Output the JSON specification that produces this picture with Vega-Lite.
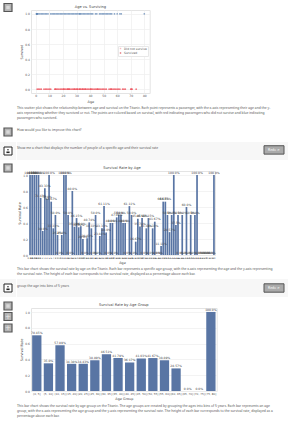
{"$schema":"https://vega.github.io/schema/vega-lite/v6.json","padding":0,"background":"white","autosize":{"type":"pad"},"spacing":0,"bounds":"full",
"config":{"view":{"stroke":null},"font":"DejaVu Sans","axis":{"domain":false,"ticks":false,"labelFontSize":3,"titleFontSize":3.4,"labelColor":"#555","titleColor":"#444","titleFontWeight":"normal","labelPadding":1.5,"titlePadding":1.5,"gridColor":"#eeeeee","gridWidth":0.7},"title":{"fontSize":3.6,"fontWeight":"normal","color":"#444","offset":1}},
"datasets":{
"scatter":[{"age":0.42,"survived":1},{"age":0.67,"survived":1},{"age":0.75,"survived":1},{"age":0.83,"survived":1},{"age":0.92,"survived":1},{"age":1,"survived":1},{"age":2,"survived":1},{"age":3,"survived":1},{"age":4,"survived":1},{"age":5,"survived":1},{"age":6,"survived":1},{"age":7,"survived":1},{"age":8,"survived":1},{"age":9,"survived":1},{"age":11,"survived":1},{"age":12,"survived":1},{"age":13,"survived":1},{"age":14,"survived":1},{"age":15,"survived":1},{"age":16,"survived":1},{"age":17,"survived":1},{"age":18,"survived":1},{"age":19,"survived":1},{"age":20,"survived":1},{"age":21,"survived":1},{"age":22,"survived":1},{"age":23,"survived":1},{"age":24,"survived":1},{"age":25,"survived":1},{"age":26,"survived":1},{"age":27,"survived":1},{"age":28,"survived":1},{"age":29,"survived":1},{"age":30,"survived":1},{"age":31,"survived":1},{"age":32,"survived":1},{"age":32.5,"survived":1},{"age":33,"survived":1},{"age":34,"survived":1},{"age":35,"survived":1},{"age":36,"survived":1},{"age":37,"survived":1},{"age":38,"survived":1},{"age":39,"survived":1},{"age":40,"survived":1},{"age":41,"survived":1},{"age":42,"survived":1},{"age":44,"survived":1},{"age":45,"survived":1},{"age":47,"survived":1},{"age":48,"survived":1},{"age":49,"survived":1},{"age":50,"survived":1},{"age":51,"survived":1},{"age":52,"survived":1},{"age":53,"survived":1},{"age":54,"survived":1},{"age":55,"survived":1},{"age":56,"survived":1},{"age":58,"survived":1},{"age":60,"survived":1},{"age":62,"survived":1},{"age":63,"survived":1},{"age":80,"survived":1},
{"age":1,"survived":0},{"age":2,"survived":0},{"age":3,"survived":0},{"age":4,"survived":0},{"age":6,"survived":0},{"age":7,"survived":0},{"age":8,"survived":0},{"age":9,"survived":0},{"age":10,"survived":0},{"age":11,"survived":0},{"age":14,"survived":0},{"age":14.5,"survived":0},{"age":15,"survived":0},{"age":16,"survived":0},{"age":17,"survived":0},{"age":18,"survived":0},{"age":19,"survived":0},{"age":20,"survived":0},{"age":20.5,"survived":0},{"age":21,"survived":0},{"age":22,"survived":0},{"age":23,"survived":0},{"age":23.5,"survived":0},{"age":24,"survived":0},{"age":24.5,"survived":0},{"age":25,"survived":0},{"age":26,"survived":0},{"age":27,"survived":0},{"age":28,"survived":0},{"age":28.5,"survived":0},{"age":29,"survived":0},{"age":30,"survived":0},{"age":30.5,"survived":0},{"age":31,"survived":0},{"age":32,"survived":0},{"age":32.5,"survived":0},{"age":33,"survived":0},{"age":34,"survived":0},{"age":34.5,"survived":0},{"age":35,"survived":0},{"age":36,"survived":0},{"age":36.5,"survived":0},{"age":37,"survived":0},{"age":38,"survived":0},{"age":39,"survived":0},{"age":40,"survived":0},{"age":40.5,"survived":0},{"age":41,"survived":0},{"age":42,"survived":0},{"age":43,"survived":0},{"age":44,"survived":0},{"age":45,"survived":0},{"age":45.5,"survived":0},{"age":46,"survived":0},{"age":47,"survived":0},{"age":48,"survived":0},{"age":49,"survived":0},{"age":50,"survived":0},{"age":51,"survived":0},{"age":52,"survived":0},{"age":54,"survived":0},{"age":55,"survived":0},{"age":55.5,"survived":0},{"age":56,"survived":0},{"age":57,"survived":0},{"age":58,"survived":0},{"age":59,"survived":0},{"age":60,"survived":0},{"age":61,"survived":0},{"age":62,"survived":0},{"age":64,"survived":0},{"age":65,"survived":0},{"age":66,"survived":0},{"age":70,"survived":0},{"age":70.5,"survived":0},{"age":71,"survived":0},{"age":74,"survived":0}],
"byage":[{"age":0.42,"rate":1,"label":"100.0%"},{"age":0.67,"rate":1,"label":"100.0%"},{"age":0.75,"rate":1,"label":"100.0%"},{"age":0.83,"rate":1,"label":"100.0%"},{"age":0.92,"rate":1,"label":"100.0%"},{"age":1,"rate":0.7143,"label":"71.43%"},{"age":2,"rate":0.3,"label":"30.0%"},{"age":3,"rate":0.8333,"label":"83.33%"},{"age":4,"rate":0.7,"label":"70.0%"},{"age":5,"rate":1,"label":"100.0%"},{"age":6,"rate":0.6667,"label":"66.67%"},{"age":7,"rate":0.3333,"label":"33.33%"},{"age":8,"rate":0.5,"label":"50.0%"},{"age":9,"rate":0.25,"label":"25.0%"},{"age":10,"rate":0,"label":"0.0%"},{"age":11,"rate":0.25,"label":"25.0%"},{"age":12,"rate":1,"label":"100.0%"},{"age":13,"rate":1,"label":"100.0%"},{"age":14,"rate":0.5,"label":"50.0%"},{"age":14.5,"rate":0,"label":"0.0%"},{"age":15,"rate":0.8,"label":"80.0%"},{"age":16,"rate":0.3529,"label":"35.29%"},{"age":17,"rate":0.4615,"label":"46.15%"},{"age":18,"rate":0.3462,"label":"34.62%"},{"age":19,"rate":0.36,"label":"36.0%"},{"age":20,"rate":0.2,"label":"20.0%"},{"age":20.5,"rate":0,"label":"0.0%"},{"age":21,"rate":0.2083,"label":"20.83%"},{"age":22,"rate":0.4074,"label":"40.74%"},{"age":23,"rate":0.3333,"label":"33.33%"},{"age":23.5,"rate":0,"label":"0.0%"},{"age":24,"rate":0.5,"label":"50.0%"},{"age":24.5,"rate":0,"label":"0.0%"},{"age":25,"rate":0.2381,"label":"23.81%"},{"age":26,"rate":0.3333,"label":"33.33%"},{"age":27,"rate":0.6111,"label":"61.11%"},{"age":28,"rate":0.28,"label":"28.0%"},{"age":28.5,"rate":0,"label":"0.0%"},{"age":29,"rate":0.4,"label":"40.0%"},{"age":30,"rate":0.4,"label":"40.0%"},{"age":30.5,"rate":0,"label":"0.0%"},{"age":31,"rate":0.4706,"label":"47.06%"},{"age":32,"rate":0.5,"label":"50.0%"},{"age":32.5,"rate":0.5,"label":"50.0%"},{"age":33,"rate":0.4,"label":"40.0%"},{"age":34,"rate":0.4,"label":"40.0%"},{"age":34.5,"rate":0,"label":"0.0%"},{"age":35,"rate":0.6111,"label":"61.11%"},{"age":36,"rate":0.5,"label":"50.0%"},{"age":36.5,"rate":0,"label":"0.0%"},{"age":37,"rate":0.1667,"label":"16.67%"},{"age":38,"rate":0.4545,"label":"45.45%"},{"age":39,"rate":0.3571,"label":"35.71%"},{"age":40,"rate":0.4615,"label":"46.15%"},{"age":40.5,"rate":0,"label":"0.0%"},{"age":41,"rate":0.3333,"label":"33.33%"},{"age":42,"rate":0.4615,"label":"46.15%"},{"age":43,"rate":0,"label":"0.0%"},{"age":44,"rate":0.3333,"label":"33.33%"},{"age":45,"rate":0.4167,"label":"41.67%"},{"age":45.5,"rate":0,"label":"0.0%"},{"age":46,"rate":0,"label":"0.0%"},{"age":47,"rate":0.1111,"label":"11.11%"},{"age":48,"rate":0.6667,"label":"66.67%"},{"age":49,"rate":0.6667,"label":"66.67%"},{"age":50,"rate":0.5,"label":"50.0%"},{"age":51,"rate":0.2857,"label":"28.57%"},{"age":52,"rate":0.5,"label":"50.0%"},{"age":53,"rate":1,"label":"100.0%"},{"age":54,"rate":0.375,"label":"37.5%"},{"age":55,"rate":0.5,"label":"50.0%"},{"age":55.5,"rate":0,"label":"0.0%"},{"age":56,"rate":0.5,"label":"50.0%"},{"age":57,"rate":0,"label":"0.0%"},{"age":58,"rate":0.6,"label":"60.0%"},{"age":59,"rate":0,"label":"0.0%"},{"age":60,"rate":0.5,"label":"50.0%"},{"age":61,"rate":0,"label":"0.0%"},{"age":62,"rate":0.5,"label":"50.0%"},{"age":63,"rate":1,"label":"100.0%"},{"age":64,"rate":0,"label":"0.0%"},{"age":65,"rate":0,"label":"0.0%"},{"age":66,"rate":0,"label":"0.0%"},{"age":70,"rate":0,"label":"0.0%"},{"age":70.5,"rate":0,"label":"0.0%"},{"age":71,"rate":0,"label":"0.0%"},{"age":74,"rate":0,"label":"0.0%"},{"age":80,"rate":1,"label":"100.0%"}],
"bins":[{"group":"(0, 5]","rate":0.7045,"label":"70.45%"},{"group":"(5, 10]","rate":0.35,"label":"35.0%"},{"group":"(10, 15]","rate":0.5789,"label":"57.89%"},{"group":"(15, 20]","rate":0.3438,"label":"34.38%"},{"group":"(20, 25]","rate":0.3443,"label":"34.43%"},{"group":"(25, 30]","rate":0.3889,"label":"38.89%"},{"group":"(30, 35]","rate":0.4651,"label":"46.51%"},{"group":"(35, 40]","rate":0.4179,"label":"41.79%"},{"group":"(40, 45]","rate":0.3617,"label":"36.17%"},{"group":"(45, 50]","rate":0.4103,"label":"41.03%"},{"group":"(50, 55]","rate":0.4167,"label":"41.67%"},{"group":"(55, 60]","rate":0.3889,"label":"38.89%"},{"group":"(60, 65]","rate":0.2857,"label":"28.57%"},{"group":"(65, 70]","rate":0,"label":"0.0%"},{"group":"(70, 75]","rate":0,"label":"0.0%"},{"group":"(75, 80]","rate":1,"label":"100.0%"}]},
"hconcat":[
{"vconcat":[
{"width":16,"height":15,"data":{"values":[{"icon":"bot"}]},"layer":[{"mark":{"type":"point","shape":"square","size":64,"filled":true,"fill":"#b4b4b4","stroke":"#555","strokeWidth":1.2,"opacity":1}},{"mark":{"type":"point","shape":"square","size":12,"filled":true,"fill":"#d8d8d8","opacity":1}}]},
{"width":16,"height":112,"data":{"values":[]},"mark":{"type":"point","opacity":0}},
{"width":16,"height":10,"data":{"values":[{"icon":"bot"}]},"layer":[{"mark":{"type":"point","shape":"square","size":64,"filled":true,"fill":"#b4b4b4","stroke":"#555","strokeWidth":1.2,"opacity":1}},{"mark":{"type":"point","shape":"square","size":12,"filled":true,"fill":"#d8d8d8","opacity":1}}]},
{"width":16,"height":5,"data":{"values":[]},"mark":{"type":"point","opacity":0}},
{"width":16,"height":18,"view":{"fill":"#f7f7f7"},"data":{"values":[{"icon":"user"}]},"layer":[{"mark":{"type":"point","shape":"square","size":64,"filled":true,"fill":"#ffffff","stroke":"#222","strokeWidth":1,"opacity":1}},{"mark":{"type":"point","shape":"circle","size":2.5,"filled":true,"fill":"#222","opacity":1,"yOffset":-1.3}},{"mark":{"type":"point","shape":"M-1,-0.5H1V0.5H-1Z","size":10,"filled":true,"fill":"#222","opacity":1,"yOffset":1.3}}]},
{"width":16,"height":3,"data":{"values":[]},"mark":{"type":"point","opacity":0}},
{"width":16,"height":10,"data":{"values":[{"icon":"bot"}]},"layer":[{"mark":{"type":"point","shape":"square","size":64,"filled":true,"fill":"#b4b4b4","stroke":"#555","strokeWidth":1.2,"opacity":1}},{"mark":{"type":"point","shape":"square","size":12,"filled":true,"fill":"#d8d8d8","opacity":1}}]},
{"width":16,"height":106,"data":{"values":[]},"mark":{"type":"point","opacity":0}},
{"width":16,"height":18,"view":{"fill":"#f7f7f7"},"data":{"values":[{"icon":"user"}]},"layer":[{"mark":{"type":"point","shape":"square","size":64,"filled":true,"fill":"#ffffff","stroke":"#222","strokeWidth":1,"opacity":1}},{"mark":{"type":"point","shape":"circle","size":2.5,"filled":true,"fill":"#222","opacity":1,"yOffset":-1.3}},{"mark":{"type":"point","shape":"M-1,-0.5H1V0.5H-1Z","size":10,"filled":true,"fill":"#222","opacity":1,"yOffset":1.3}}]},
{"width":16,"height":4,"data":{"values":[]},"mark":{"type":"point","opacity":0}},
{"width":16,"height":10,"data":{"values":[{"icon":"bot"}]},"layer":[{"mark":{"type":"point","shape":"square","size":64,"filled":true,"fill":"#b4b4b4","stroke":"#555","strokeWidth":1.2,"opacity":1}},{"mark":{"type":"point","shape":"square","size":12,"filled":true,"fill":"#d8d8d8","opacity":1}}]},
{"width":16,"height":11,"data":{"values":[{"icon":"plus"}]},"layer":[{"mark":{"type":"point","shape":"square","size":64,"filled":true,"fill":"#b4b4b4","stroke":"#555","strokeWidth":1.2,"opacity":1}},{"mark":{"type":"text","text":"+","fontSize":7,"color":"#e8e8e8"}}]},
{"width":16,"height":12,"data":{"values":[{"icon":"plus"}]},"layer":[{"mark":{"type":"point","shape":"square","size":64,"filled":true,"fill":"#b4b4b4","stroke":"#555","strokeWidth":1.2,"opacity":1}},{"mark":{"type":"text","text":"+","fontSize":7,"color":"#e8e8e8"}}]},
{"width":16,"height":89,"data":{"values":[]},"mark":{"type":"point","opacity":0}}
],"spacing":0,"bounds":"flush"},
{"vconcat":[
{"width":272,"height":4,"data":{"values":[]},"mark":{"type":"point","opacity":0}},
{"hconcat":[
{"width":13.3,"height":83,"data":{"values":[]},"mark":{"type":"point","opacity":0}},
{"width":118.7,"height":83,"title":"Age vs. Surviving","view":{"stroke":"#e4e4e4"},"data":{"name":"scatter"},
 "encoding":{"x":{"field":"age","type":"quantitative","scale":{"domain":[-3.56,83.98],"nice":false},"axis":{"values":[0,10,20,30,40,50,60,70,80],"title":"Age"}},"y":{"field":"survived","type":"quantitative","scale":{"domain":[-0.05,1.05],"nice":false},"axis":{"values":[0,0.2,0.4,0.6,0.8,1],"format":".1f","title":"Survived"}}},
 "layer":[
 {"mark":{"type":"point","filled":true,"size":3,"opacity":0.75},"encoding":{"color":{"condition":{"test":"datum.survived===1","value":"#5f86b4"},"value":"#ee4b55"}}},
 {"mark":{"type":"point","filled":true,"size":0},"encoding":{"color":{"field":"survived","type":"nominal","scale":{"domain":[0,1],"range":["#f4a3a6","#d8313c"]},"legend":{"title":null,"orient":"none","legendX":118,"legendY":46,"labelFontSize":3,"labelColor":"#555","symbolSize":2,"symbolType":"square","padding":1,"rowPadding":0.5,"labelOffset":2,"fillColor":"white","strokeColor":"#e8e8e8","labelExpr":"datum.value==1?'Survived':'Did not survive'"}}}}
 ]},
{"width":140,"height":83,"data":{"values":[]},"mark":{"type":"point","opacity":0}}
],"spacing":0,"bounds":"flush"},
{"width":272,"height":1.3,"data":{"values":[]},"mark":{"type":"point","opacity":0}},
{"width":272,"height":16,"data":{"values":[{"line":1,"text":"This scatter plot shows the relationship between age and survival on the Titanic. Each point represents a passenger, with the x-axis representing their age and the y-"},{"line":2,"text":"axis representing whether they survived or not. The points are colored based on survival, with red indicating passengers who did not survive and blue indicating"},{"line":3,"text":"passengers who survived."}]},"mark":{"type":"text","align":"left","baseline":"middle","font":"Noto Sans","fontSize":3.3,"color":"#555"},"encoding":{"x":{"datum":0,"type":"quantitative","scale":{"domain":[0,1]},"axis":null},"y":{"field":"line","type":"ordinal","axis":null},"text":{"field":"text"}}},
{"width":272,"height":6,"data":{"values":[]},"mark":{"type":"point","opacity":0}},
{"width":272,"height":5,"data":{"values":[{"line":1,"text":"How would you like to improve this chart?"}]},"mark":{"type":"text","align":"left","baseline":"middle","font":"Noto Sans","fontSize":3.3,"color":"#555"},"encoding":{"x":{"datum":0,"type":"quantitative","scale":{"domain":[0,1]},"axis":null},"y":{"field":"line","type":"ordinal","axis":null},"text":{"field":"text"}}},
{"width":272,"height":10,"data":{"values":[]},"mark":{"type":"point","opacity":0}},
{"hconcat":[
{"width":242,"height":18,"view":{"fill":"#f7f7f7"},"data":{"values":[{"line":1,"text":"Show me a chart that displays the number of people of a specific age and their survival rate"}]},"mark":{"type":"text","align":"left","baseline":"middle","font":"Noto Sans","fontSize":3.3,"color":"#555"},"encoding":{"x":{"datum":0,"type":"quantitative","scale":{"domain":[0,1]},"axis":null},"y":{"field":"line","type":"ordinal","axis":null,"scale":{"type":"point","align":0.333,"padding":0}},"text":{"field":"text"}}},
{"width":30,"height":18,"view":{"fill":"#f7f7f7"},"data":{"values":[{"line":1}]},"encoding":{"y":{"field":"line","type":"ordinal","axis":null,"scale":{"type":"point","align":0.44,"padding":0}}},"layer":[{"mark":{"type":"point","shape":"M-1,-0.42H1V0.42H-1Z","size":400,"filled":true,"fill":"#aaaaaa","stroke":"#555","strokeWidth":1,"opacity":1}},{"mark":{"type":"text","text":"Redo ↺","fontSize":3.3,"color":"white","font":"Noto Sans"}}]}
],"spacing":0,"bounds":"flush"},
{"width":272,"height":4.4,"data":{"values":[]},"mark":{"type":"point","opacity":0}},
{"hconcat":[
{"width":11.3,"height":84,"data":{"values":[]},"mark":{"type":"point","opacity":0}},
{"width":186,"height":84,"title":"Survival Rate by Age","view":{"stroke":"#e4e4e4"},"data":{"name":"byage"},
 "encoding":{"x":{"field":"age","type":"ordinal","scale":{"paddingInner":0.2,"paddingOuter":0.1},"axis":{"title":"Age","labelAngle":0,"labelFontSize":2.2,"labelColor":"#333","labelOverlap":false,"labelPadding":1.5}},"y":{"field":"rate","type":"quantitative","scale":{"domain":[0,1.05],"nice":false},"axis":{"values":[0,0.2,0.4,0.6,0.8,1],"format":".1f","title":"Survival Rate","grid":true}}},
 "layer":[{"mark":{"type":"bar","color":"#5975a4"}},{"mark":{"type":"text","baseline":"bottom","dy":-0.5,"fontSize":3,"color":"#444"},"encoding":{"text":{"field":"label"}}}]},
{"width":74.7,"height":84,"data":{"values":[]},"mark":{"type":"point","opacity":0}}
],"spacing":0,"bounds":"flush"},
{"width":272,"height":1,"data":{"values":[]},"mark":{"type":"point","opacity":0}},
{"width":272,"height":10,"data":{"values":[{"line":1,"text":"This bar chart shows the survival rate by age on the Titanic. Each bar represents a specific age group, with the x-axis representing the age and the y-axis representing"},{"line":2,"text":"the survival rate. The height of each bar corresponds to the survival rate, displayed as a percentage above each bar."}]},"mark":{"type":"text","align":"left","baseline":"middle","font":"Noto Sans","fontSize":3.3,"color":"#555"},"encoding":{"x":{"datum":0,"type":"quantitative","scale":{"domain":[0,1]},"axis":null},"y":{"field":"line","type":"ordinal","axis":null},"text":{"field":"text"}}},
{"width":272,"height":3,"data":{"values":[]},"mark":{"type":"point","opacity":0}},
{"hconcat":[
{"width":242,"height":18,"view":{"fill":"#f7f7f7"},"data":{"values":[{"line":1,"text":"group the age into bins of 5 years"}]},"mark":{"type":"text","align":"left","baseline":"middle","font":"Noto Sans","fontSize":3.3,"color":"#555"},"encoding":{"x":{"datum":0,"type":"quantitative","scale":{"domain":[0,1]},"axis":null},"y":{"field":"line","type":"ordinal","axis":null,"scale":{"type":"point","align":0.37,"padding":0}},"text":{"field":"text"}}},
{"width":30,"height":18,"view":{"fill":"#f7f7f7"},"data":{"values":[{"line":1}]},"encoding":{"y":{"field":"line","type":"ordinal","axis":null,"scale":{"type":"point","align":0.5,"padding":0}}},"layer":[{"mark":{"type":"point","shape":"M-1,-0.42H1V0.42H-1Z","size":400,"filled":true,"fill":"#aaaaaa","stroke":"#555","strokeWidth":1,"opacity":1}},{"mark":{"type":"text","text":"Redo ↺","fontSize":3.3,"color":"white","font":"Noto Sans"}}]}
],"spacing":0,"bounds":"flush"},
{"width":272,"height":4.4,"data":{"values":[]},"mark":{"type":"point","opacity":0}},
{"hconcat":[
{"width":13.3,"height":83,"data":{"values":[]},"mark":{"type":"point","opacity":0}},
{"width":185.7,"height":83,"title":"Survival Rate by Age Group","view":{"stroke":"#e4e4e4"},"data":{"name":"bins"},
 "encoding":{"x":{"field":"group","type":"ordinal","sort":null,"scale":{"paddingInner":0.2,"paddingOuter":0.1},"axis":{"title":"Age Group","labelAngle":0,"labelOverlap":false,"labelFontSize":2.8}},"y":{"field":"rate","type":"quantitative","scale":{"domain":[0,1.05],"nice":false},"axis":{"values":[0,0.2,0.4,0.6,0.8,1],"format":".1f","title":"Survival Rate","grid":true}}},
 "layer":[{"mark":{"type":"bar","color":"#5975a4"}},{"mark":{"type":"text","baseline":"bottom","dy":-0.5,"fontSize":3,"color":"#444"},"encoding":{"text":{"field":"label"}}}]},
{"width":73,"height":83,"data":{"values":[]},"mark":{"type":"point","opacity":0}}
],"spacing":0,"bounds":"flush"},
{"width":272,"height":1.5,"data":{"values":[]},"mark":{"type":"point","opacity":0}},
{"width":272,"height":16,"data":{"values":[{"line":1,"text":"This bar chart shows the survival rate by age group on the Titanic. The age groups are created by grouping the ages into bins of 5 years. Each bar represents an age"},{"line":2,"text":"group, with the x-axis representing the age group and the y-axis representing the survival rate. The height of each bar corresponds to the survival rate, displayed as a"},{"line":3,"text":"percentage above each bar."}]},"mark":{"type":"text","align":"left","baseline":"middle","font":"Noto Sans","fontSize":3.3,"color":"#555"},"encoding":{"x":{"datum":0,"type":"quantitative","scale":{"domain":[0,1]},"axis":null},"y":{"field":"line","type":"ordinal","axis":null},"text":{"field":"text"}}}
],"spacing":0,"bounds":"full"}
]}
